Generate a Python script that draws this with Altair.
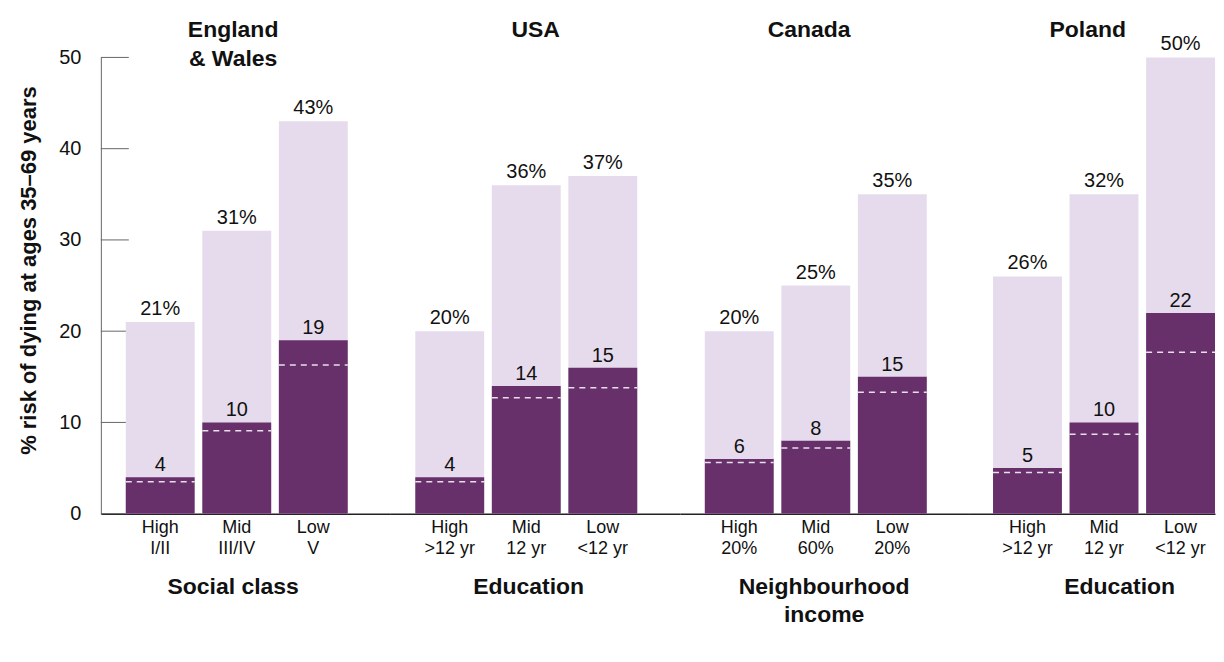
import altair as alt
import pandas as pd

# ---- data ----
country_titles = [["England", "& Wales"], ["USA", " "], ["Canada", " "], ["Poland", " "]]
group_titles = [["Social class"], ["Education"], ["Neighbourhood", "income"], ["Education"]]
levels = ["High", "Mid", "Low"]
sublabels = [["I/II", "III/IV", "V"],
             [">12 yr", "12 yr", "<12 yr"],
             ["20%", "60%", "20%"],
             [">12 yr", "12 yr", "<12 yr"]]
total_risk = [[21, 31, 43], [20, 36, 37], [20, 25, 35], [26, 35, 50]]
total_text = [["21%", "31%", "43%"], ["20%", "36%", "37%"], ["20%", "25%", "35%"], ["26%", "32%", "50%"]]
excess_risk = [[4, 10, 19], [4, 14, 16], [6, 8, 15], [5, 10, 22]]
excess_text = [["4", "10", "19"], ["4", "14", "15"], ["6", "8", "15"], ["5", "10", "22"]]
dashed_level = [[3.5, 9.1, 16.3], [3.5, 12.7, 13.8], [5.6, 7.2, 13.3], [4.5, 8.7, 17.7]]
y_ticks = [0, 10, 20, 30, 40, 50]

# ---- styling ----
LIGHT = "#e6dbed"
DARK = "#67306b"
TXT = "#111111"
panel_w = [290, 290, 290, 246]
pad_outer = [0.4413, 0.4413, 0.4413, 0.1543]
pad_align = [0.369, 0.369, 0.369, 1.0]
country_title_x = [132, 145, 129, 118]
axis_title_x = [132, 138, 144, 150]
H = 457


def panel(i):
    df = pd.DataFrame({
        "cat": [f"{l}|{s}" for l, s in zip(levels, sublabels[i])],
        "total": total_risk[i],
        "total_lbl": total_text[i],
        "excess": excess_risk[i],
        "excess_lbl": excess_text[i],
        "dash": dashed_level[i],
    })
    xscale = alt.Scale(domain=df["cat"].tolist(), paddingInner=0.1,
                       paddingOuter=pad_outer[i], align=pad_align[i])
    bottom_axis = alt.Axis(title=group_titles[i], labelExpr="split(datum.label, '|')",
                           labelAngle=0, ticks=False, tickSize=0, domainColor="#222222",
                           domainWidth=1.5, labelFontSize=18, labelLineHeight=21,
                           labelPadding=5, labelBaseline="top", labelColor=TXT,
                           titleFontSize=23, titleFontWeight="bold", titleColor=TXT,
                           titlePadding=18, titleLineHeight=28, titleX=axis_title_x[i])
    top_axis = alt.Axis(orient="top", title=country_titles[i], labels=False, ticks=False,
                        tickSize=0, domainOpacity=0, titleFontSize=23,
                        titleFontWeight="bold", titleColor=TXT, titleLineHeight=29,
                        titlePadding=-13, titleX=country_title_x[i])
    x_bottom = alt.X("cat:N", scale=xscale, sort=None, axis=bottom_axis)
    x_top = alt.X("cat:N", scale=xscale, sort=None, axis=top_axis)
    x_plain = alt.X("cat:N", scale=xscale, sort=None, axis=None)
    yscale = alt.Scale(domain=[0, 50], nice=False)
    if i == 0:
        yaxis = alt.Axis(title="% risk of dying at ages 35–69 years", values=y_ticks,
                         ticks=False, tickSize=0, grid=False, domainColor="#666666",
                         labelFontSize=20, labelPadding=20, labelColor=TXT,
                         titleFontSize=22, titleFontWeight="bold", titleColor=TXT,
                         titlePadding=18, titleY=213)
    else:
        yaxis = None
    y_total = alt.Y("total:Q", scale=yscale, axis=yaxis)

    base = alt.Chart(df)
    light = base.mark_bar(color=LIGHT).encode(x=x_bottom, y=y_total)
    dark = base.mark_bar(color=DARK).encode(x=x_plain, y=alt.Y("excess:Q", scale=yscale))
    dash = base.mark_rule(color="white", strokeDash=[6, 5], strokeWidth=1.5,
                          opacity=0.85).encode(
        x=alt.X("cat:N", scale=xscale, sort=None, bandPosition=0, axis=None),
        x2=alt.X2("cat", bandPosition=1),
        y=alt.Y("dash:Q", scale=yscale))
    tlabel = base.mark_text(baseline="alphabetic", dy=-7, fontSize=20, color=TXT).encode(
        x=x_top, y=alt.Y("total:Q", scale=yscale), text="total_lbl:N")
    elabel = base.mark_text(baseline="alphabetic", dy=-6, fontSize=20, color=TXT).encode(
        x=x_plain, y=alt.Y("excess:Q", scale=yscale), text="excess_lbl:N")
    layers = [light, dark, dash, tlabel, elabel]
    if i == 0:
        ticks = alt.Chart(pd.DataFrame({"v": y_ticks})).mark_rule(
            color="#666666", strokeWidth=1).encode(
            x=alt.value(0), x2=alt.value(28), y=alt.Y("v:Q", scale=yscale))
        layers = [ticks] + layers
    return alt.layer(*layers).resolve_axis(x="independent").properties(
        width=panel_w[i], height=H)


chart = alt.hconcat(*[panel(i) for i in range(4)], spacing=0).resolve_scale(
    x="independent", y="independent"
).properties(
    padding={"left": 9, "top": 10, "right": 0, "bottom": 0},
    background="white",
).configure(font="Liberation Sans").configure_view(strokeWidth=0)

chart.save("out.html", embed_options={"renderer": "svg", "actions": False})
